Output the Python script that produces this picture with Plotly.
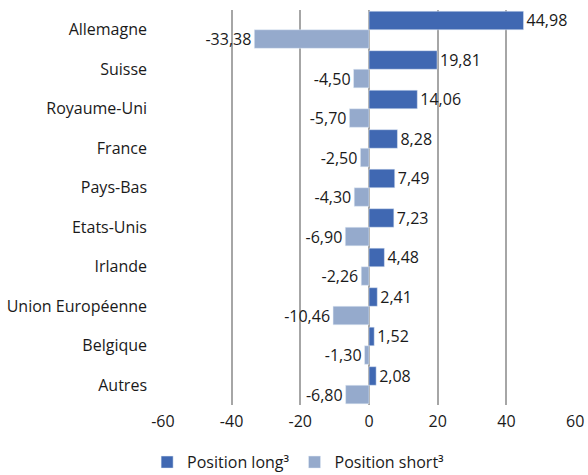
import plotly.graph_objects as go

categories = ["Allemagne", "Suisse", "Royaume-Uni", "France", "Pays-Bas", "Etats-Unis",
              "Irlande", "Union Européenne", "Belgique", "Autres"]
long_vals = [44.98, 19.81, 14.06, 8.28, 7.49, 7.23, 4.48, 2.41, 1.52, 2.08]
short_vals = [-33.38, -4.50, -5.70, -2.50, -4.30, -6.90, -2.26, -10.46, -1.30, -6.80]
tick_vals = [-60, -40, -20, 0, 20, 40, 60]
tick_text = ["-60", "-40", "-20", "0", "20", "40", "60"]

def fmt(v):
    return f"{v:.2f}".replace(".", ",")

FONT = "Open Sans"
SIZE = 16
fig = go.Figure()
fig.add_trace(go.Bar(y=categories, x=long_vals, orientation="h", name="Position long³",
                     marker=dict(color="#4068B2"), text=[fmt(v) for v in long_vals],
                     textposition="outside", cliponaxis=False, constraintext="none",
                     textfont=dict(size=SIZE, color="#1a1a1a", family=FONT)))
fig.add_trace(go.Bar(y=categories, x=short_vals, orientation="h", name="Position short³",
                     marker=dict(color="#95AACC"), text=[fmt(v) for v in short_vals],
                     textposition="outside", cliponaxis=False, constraintext="none",
                     textfont=dict(size=SIZE, color="#1a1a1a", family=FONT)))
fig.update_layout(
    width=588, height=475,
    margin=dict(l=162, r=12, t=10, b=70, autoexpand=False),
    barmode="group", bargap=0.06, bargroupgap=0,
    plot_bgcolor="white", paper_bgcolor="white",
    font=dict(family=FONT, size=SIZE, color="#1a1a1a"),
    xaxis=dict(range=[-60.25, 60.25], tickvals=tick_vals, ticktext=tick_text, tickangle=0,
               showgrid=True, gridcolor="#A6A6A6", gridwidth=1.5, automargin=False,
               zeroline=False, showline=False, ticks="", ticklabelstandoff=5),
    yaxis=dict(autorange="reversed", showgrid=False, zeroline=False, showline=False,
               ticks="", ticklabelstandoff=14, automargin=False),
    showlegend=True,
    legend=dict(orientation="h", xref="container", x=0.507, xanchor="center",
                yref="container", y=0.027, yanchor="middle", font=dict(size=SIZE),
                itemwidth=30, traceorder="normal"),
)
fig.write_html("out.html", config={"displayModeBar": False},
               post_script="document.body.style.margin='0';document.body.style.overflow='hidden';")
